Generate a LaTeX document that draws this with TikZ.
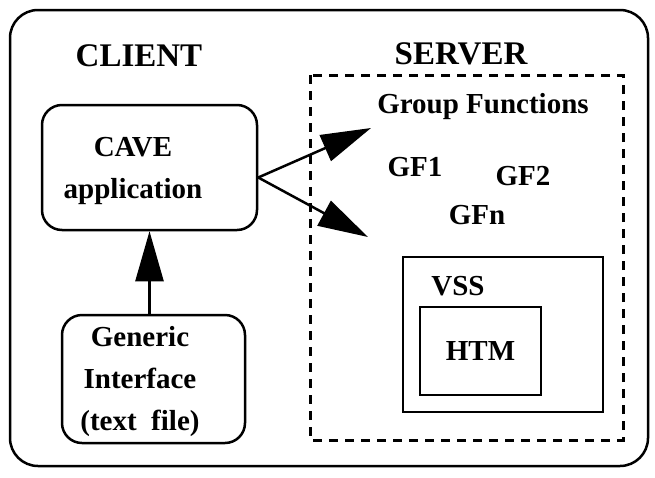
\documentclass[tikz,border=0pt]{standalone}
\usepackage{fontspec}
\setmainfont{Liberation Serif}
\usetikzlibrary{arrows.meta}

\tikzset{
  lbl/.style={font=\bfseries\fontsize{29}{42}\selectfont, align=center, inner sep=0pt},
  headlbl/.style={font=\bfseries\fontsize{33}{40}\selectfont, inner sep=0pt},
  rbox/.style={draw, line width=2.5pt, rounded corners=20pt},
  sbox/.style={draw, line width=2.5pt},
  arr/.style={line width=2.5pt, -{Triangle[length=50pt,width=28pt]}},
}

\begin{document}
\begin{tikzpicture}[x=1pt,y=-1pt]
    \useasboundingbox (0,0) rectangle (655,477);
    \draw[line width=2.5pt,rounded corners=28pt] (10,10) rectangle (648,466);
    \draw[line width=3pt,dash pattern=on 9pt off 7pt] (310,75) rectangle (623,440);

    \node[headlbl] (client) at (139,56) {CLIENT};
    \node[headlbl] (server) at (461,54) {SERVER};

    % client side
    \node[rbox,minimum width=215pt,minimum height=125pt] (cave) at (149.5,167.5) {};
    \node[lbl] (cavetxt) at (133,171) {CAVE\\application};
    \node[rbox,minimum width=183pt,minimum height=128pt] (gen) at (153.5,379) {};
    \node[lbl] (gentxt) at (140,382) {Generic\\Interface\\(text\ \ file)};
    \draw[arr] (gen.north -| cave.south) -- (cave.south);

    % server side
    \node[lbl] (gf) at (483,107) {Group Functions};
    \node[lbl] (gf1) at (415,167) {GF1};
    \node[lbl] (gf2) at (523,176) {GF2};
    \node[lbl] (gfn) at (477,215) {GFn};
    \coordinate (gfup) at (371,128);
    \coordinate (gfdown) at (368,237);
    \draw[arr] ([yshift=-10pt]cave.east) -- (gfup);
    \draw[arr] ([yshift=-10pt]cave.east) -- (gfdown);

    \node[sbox,minimum width=200pt,minimum height=155pt] (vss) at (503,334.5) {};
    \node[lbl] (vsstxt) at (458,286) {VSS};
    \node[sbox,lbl,minimum width=121pt,minimum height=88pt] (htm) at (480.5,351) {HTM};
\end{tikzpicture}
\end{document}
